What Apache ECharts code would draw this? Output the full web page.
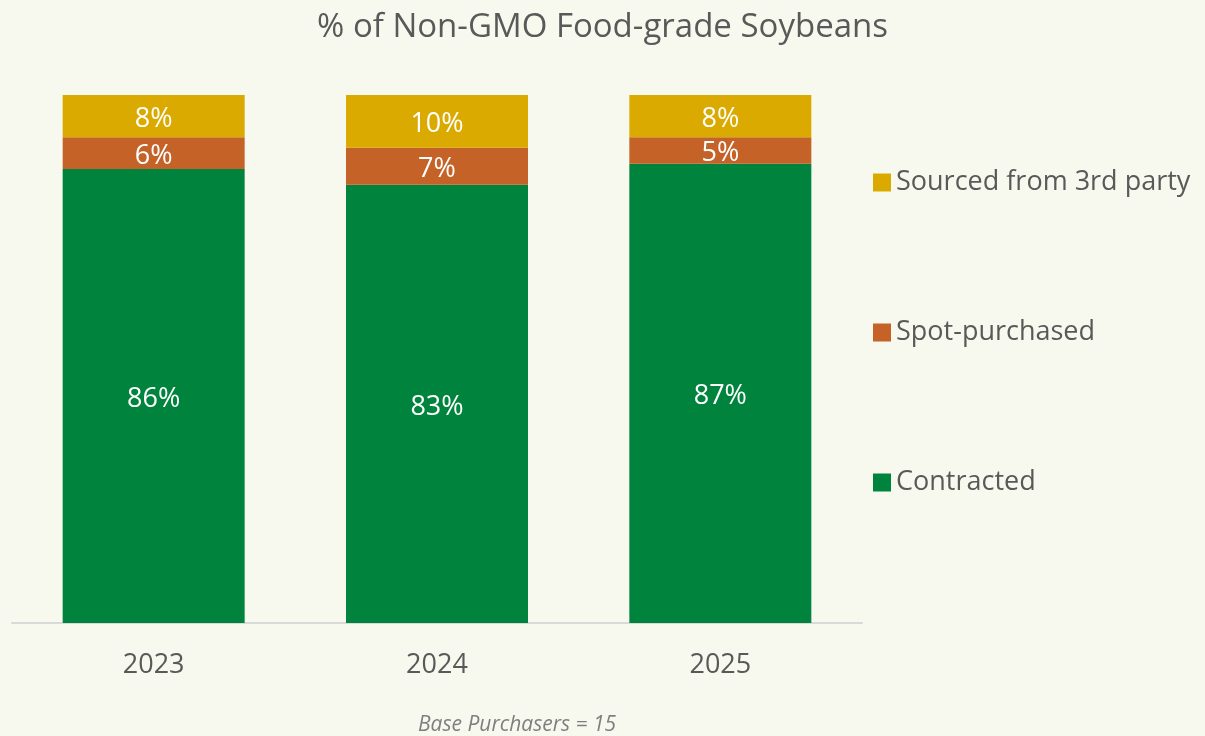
<!DOCTYPE html>
<html><head><meta charset="utf-8">
<script src="https://cdn.jsdelivr.net/npm/echarts@6/dist/echarts.min.js"></script>
<style>html,body{margin:0;padding:0;background:#F8F9EE;}#c{width:1205px;height:736px;}</style>
</head><body><div id="c"></div>
<script>
const categories = ['2023', '2024', '2025'];
const contracted = [86, 83, 87];
const spotPurchased = [6, 7, 5];
const thirdParty = [8, 10, 8];
const seriesNames = ['Contracted', 'Spot-purchased', 'Sourced from 3rd party'];
const colors = ['#00843D', '#C46227', '#DAAA00'];
const FONT = '"Open Sans", "Noto Sans", sans-serif';
const chart = echarts.init(document.getElementById('c'));
const lbl = {show: true, position: 'inside', color: '#FFFFFF', fontSize: 27, fontFamily: FONT, offset: [0, 3], formatter: p => p.value + '%'};
const dataSets = [contracted, spotPurchased, thirdParty];
chart.setOption({
  backgroundColor: '#F8F9EE',
  animation: false,
  title: {text: '% of Non-GMO Food-grade Soybeans', left: 'center', top: 6,
    textStyle: {color: '#595959', fontSize: 33, fontWeight: 'normal', fontFamily: FONT}},
  legend: {orient: 'vertical', left: 868, top: 162, itemWidth: 18, itemHeight: 18, itemGap: 119,
    data: [seriesNames[2], seriesNames[1], seriesNames[0]],
    textStyle: {color: '#595959', fontSize: 27, fontFamily: FONT, lineHeight: 31}, icon: 'rect'},
  grid: {left: 12, right: 343, top: 95, bottom: 113},
  xAxis: {type: 'category', data: categories,
    axisLine: {lineStyle: {color: '#D9D9D9', width: 2}}, axisTick: {show: false},
    axisLabel: {color: '#595959', fontSize: 27, fontFamily: FONT, margin: 29}},
  yAxis: {type: 'value', min: 0, max: 100, show: false, splitLine: {show: false}},
  graphic: [{type: 'text', left: 418, top: 715, style: {text: 'Base Purchasers = 15', fill: '#7F7F7F', fontSize: 21, fontStyle: 'italic', fontFamily: FONT}}],
  series: dataSets.map((d, i) => ({
    name: seriesNames[i], type: 'bar', stack: 'total', data: d, barWidth: 182,
    itemStyle: {color: colors[i]}, label: lbl
  }))
});
</script></body></html>
